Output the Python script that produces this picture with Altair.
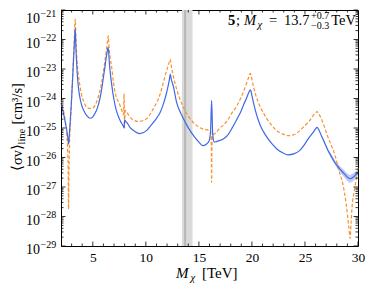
import altair as alt
import pandas as pd

# ---------------- data ----------------
blue_m = [2.0, 2.2, 2.4, 2.55, 2.65, 2.72, 2.8, 2.9, 3.0, 3.1, 3.2, 3.28, 3.34, 3.42, 3.52, 3.65, 3.8, 3.96,
          4.2, 4.43, 4.74, 5.0, 5.2, 5.45, 5.67, 5.85, 5.98, 6.15, 6.29, 6.38, 6.45, 6.55, 6.65, 6.76, 6.95,
          7.17, 7.4, 7.65, 7.85, 7.95, 8.0, 8.1, 8.2, 8.5, 8.9, 9.44, 10.06, 10.5, 10.99, 11.3, 11.6, 11.85,
          12.1, 12.22, 12.3, 12.4, 12.58, 12.9, 13.4, 13.98, 14.6, 15.0, 15.35, 15.7, 15.95, 16.1, 16.2, 16.3,
          16.45, 16.65, 16.9, 17.3, 17.68, 18.1, 18.6, 18.95, 19.24, 19.5, 19.7, 19.86, 20.0, 20.15, 20.33,
          20.55, 20.8, 21.1, 21.41, 21.9, 22.35, 22.9, 23.4, 24.0, 24.52, 24.9, 25.3, 25.55, 25.77, 26.0,
          26.15, 26.3, 26.55, 26.85, 27.17, 27.5, 27.8, 28.2, 28.57, 28.9, 29.25, 29.6, 30.0]
blue_log = [-24.15, -24.45, -24.8, -25.1, -25.35, -25.55, -25.15, -24.6, -24.0, -23.3, -22.55, -22.0, -21.62,
            -22.4, -23.1, -23.65, -24.0, -24.24, -24.45, -24.58, -24.67, -24.62, -24.51, -24.3, -24.0, -23.65,
            -23.33, -22.9, -22.55, -22.35, -22.27, -22.75, -23.15, -23.47, -23.95, -24.34, -24.6, -24.8, -24.92,
            -25.0, -24.72, -24.78, -24.81, -24.98, -25.1, -25.19, -25.09, -24.9, -24.68, -24.51, -24.24, -23.95,
            -23.57, -23.35, -23.17, -23.35, -23.57, -24.13, -24.58, -24.98, -25.31, -25.48, -25.6, -25.55,
            -25.45, -25.1, -24.07, -25.2, -25.48, -25.46, -25.43, -25.37, -25.26, -25.02, -24.69, -24.45,
            -24.19, -23.98, -23.8, -23.71, -23.9, -24.15, -24.41, -24.68, -24.92, -25.13, -25.31, -25.54,
            -25.71, -25.84, -25.91, -25.87, -25.76, -25.59, -25.37, -25.25, -25.15, -25.03, -24.98, -25.06,
            -25.26, -25.5, -25.76, -25.97, -26.16, -26.35, -26.5, -26.63, -26.72, -26.65, -26.5]

orange_m = [2.0, 2.2, 2.4, 2.55, 2.63, 2.68, 2.71, 2.75, 2.8, 2.88, 2.95, 3.05, 3.15, 3.25, 3.34, 3.42, 3.52,
            3.65, 3.8, 3.96, 4.2, 4.43, 4.74, 5.0, 5.2, 5.45, 5.67, 5.85, 5.98, 6.15, 6.29, 6.38, 6.45, 6.55,
            6.65, 6.76, 6.95, 7.17, 7.4, 7.57, 7.8, 7.9, 7.95, 7.99, 8.05, 8.2, 8.67, 9.3, 10.06, 10.68, 11.0,
            11.3, 11.55, 11.77, 12.1, 12.22, 12.3, 12.4, 12.58, 12.9, 13.4, 13.98, 14.6, 15.35, 15.97, 16.12,
            16.17, 16.2, 16.23, 16.3, 16.45, 16.65, 16.9, 17.3, 17.68, 18.1, 18.6, 18.95, 19.24, 19.5, 19.7,
            19.86, 20.0, 20.15, 20.33, 20.55, 20.8, 21.1, 21.41, 21.9, 22.35, 22.9, 23.4, 24.0, 24.52, 24.9,
            25.3, 25.55, 25.77, 26.0, 26.15, 26.3, 26.55, 26.85, 27.17, 27.5, 27.8, 28.0, 28.2, 28.57, 28.88,
            29.13, 29.25, 29.35, 29.44, 29.66, 29.85, 30.0]
orange_log = [-24.05, -24.35, -24.75, -25.2, -25.8, -26.6, -27.75, -26.5, -25.6, -24.9, -24.4, -23.6, -22.8,
              -22.0, -21.31, -22.1, -22.75, -23.23, -23.6, -23.9, -24.15, -24.3, -24.34, -24.32, -24.24, -24.02,
              -23.74, -23.42, -23.12, -22.7, -22.33, -22.05, -21.88, -22.35, -22.65, -22.89, -23.46, -23.9,
              -24.1, -24.24, -24.47, -24.55, -23.84, -25.0, -24.4, -24.47, -24.69, -24.78, -24.69, -24.36,
              -24.15, -23.9, -23.6, -23.29, -22.89, -22.75, -22.67, -22.9, -23.23, -23.68, -24.19, -24.58,
              -24.86, -25.03, -25.09, -25.12, -25.6, -26.84, -25.6, -25.22, -25.2, -25.15, -25.03, -24.9,
              -24.75, -24.5, -24.24, -23.98, -23.74, -23.48, -23.28, -23.15, -23.35, -23.6, -23.85, -24.08,
              -24.3, -24.5, -24.69, -24.92, -25.09, -25.2, -25.26, -25.22, -25.09, -24.95, -24.81, -24.7,
              -24.58, -24.49, -24.44, -24.52, -24.69, -24.98, -25.31, -25.6, -25.88, -26.15, -26.44, -26.89,
              -27.56, -28.35, -28.74, -28.2, -27.68, -27.11, -26.7, -26.37]

band_m = [26.55, 26.85, 27.17, 27.5, 27.8, 28.2, 28.57, 28.9, 29.25, 29.6, 30.0]
band_lo = [-25.28, -25.54, -25.81, -26.04, -26.24, -26.45, -26.61, -26.75, -26.85, -26.78, -26.6]
band_hi = [-25.24, -25.46, -25.71, -25.9, -26.08, -26.25, -26.39, -26.51, -26.59, -26.52, -26.4]

mass_best, mass_lo, mass_hi = 13.7, 13.4, 14.4
x_major = [5, 10, 15, 20, 25, 30]
x_minor = [k for k in range(3, 30) if k % 5]
y_major_exp = list(range(-29, -20))
y_minor = [m * 10.0 ** k for k in range(-29, -21) for m in range(2, 10)]

W, H = 297, 236
SERIF = "Liberation Serif"

df_blue = pd.DataFrame({"m": blue_m, "y": [10.0 ** v for v in blue_log]})
df_orange = pd.DataFrame({"m": orange_m, "y": [10.0 ** v for v in orange_log]})
df_band = pd.DataFrame({"m": band_m, "lo": [10.0 ** v for v in band_lo], "hi": [10.0 ** v for v in band_hi]})
df_mass = pd.DataFrame({"a": [mass_lo], "b": [mass_hi], "c": [mass_best]})
df_ymaj = pd.DataFrame({"y": [10.0 ** k for k in y_major_exp],
                        "e": ["\u2212" + str(-k) for k in y_major_exp],
                        "top": [k == -21 for k in y_major_exp]})

xs = alt.Scale(domain=[2, 30], nice=False, zero=False)
ys = alt.Scale(type="log", domain=[1e-29, 1e-21], nice=False)
xaxis = alt.Axis(values=x_major, ticks=False, domain=False, grid=False, labelFont=SERIF,
                 labelFontSize=13.5, labelPadding=4, labelColor="black", title=None,
                 labelFlush=False, labelOverlap=False)


def X(f="m"):
    return alt.X(f"{f}:Q", scale=xs, axis=xaxis)


def Y(f="y"):
    return alt.Y(f"{f}:Q", scale=ys, axis=None)


layers = []
# grey mass band
layers.append(alt.Chart(df_mass).mark_rect(color="#dadada").encode(
    x=X("a"), x2="b:Q", y=alt.value(0), y2=alt.value(H)))
layers.append(alt.Chart(df_mass).mark_rule(color="#b9b9b9", strokeWidth=2.2).encode(
    x=X("c"), y=alt.value(0), y2=alt.value(H)))
# uncertainty band
layers.append(alt.Chart(df_band).mark_area(color="#4169e1", opacity=0.35, interpolate="monotone").encode(
    x=X(), y=Y("lo"), y2="hi:Q"))
# curves
layers.append(alt.Chart(df_orange).mark_line(color="#f8922f", strokeWidth=1.2, strokeDash=[3.5, 2],
                                              interpolate="monotone").encode(x=X(), y=Y()))
layers.append(alt.Chart(df_blue).mark_line(color="#4169e1", strokeWidth=1.2,
                                           interpolate="monotone").encode(x=X(), y=Y()))

# inward ticks
for vals, ln in ((x_major, 4.5), (x_minor, 2.5)):
    d = pd.DataFrame({"m": vals})
    layers.append(alt.Chart(d).mark_rule(color="black", strokeWidth=0.8).encode(
        x=X(), y=alt.value(H), y2=alt.value(H - ln)))
    layers.append(alt.Chart(d).mark_rule(color="black", strokeWidth=0.8).encode(
        x=X(), y=alt.value(0), y2=alt.value(ln)))
for vals, ln in (([10.0 ** k for k in y_major_exp], 4.5), (y_minor, 2.5)):
    d = pd.DataFrame({"y": vals})
    layers.append(alt.Chart(d).mark_rule(color="black", strokeWidth=0.8).encode(
        y=Y(), x=alt.value(0), x2=alt.value(ln)))
    layers.append(alt.Chart(d).mark_rule(color="black", strokeWidth=0.8).encode(
        y=Y(), x=alt.value(W), x2=alt.value(W - ln)))

# y tick labels 10^k  (the topmost one nudged down so it stays inside the page)
for is_top, shift in ((False, 0), (True, 5)):
    sub = df_ymaj[df_ymaj["top"] == is_top]
    layers.append(alt.Chart(sub).mark_text(align="right", baseline="middle", font=SERIF, fontSize=14,
                                           dy=4 + shift, color="black").encode(
        y=Y(), x=alt.value(-21), text=alt.value("10")))
    layers.append(alt.Chart(sub).mark_text(align="left", baseline="middle", font=SERIF, fontSize=10,
                                           dy=-1.5 + shift, color="black").encode(
        y=Y(), x=alt.value(-20.5), text="e:N"))

one = pd.DataFrame({"k": [0]})


def txt(s, x, y, size=14.5, style="normal", weight="normal", align="left", angle=0, baseline="alphabetic"):
    return alt.Chart(one).mark_text(text=s, align=align, baseline=baseline, font=SERIF, fontSize=size,
                                    fontStyle=style, fontWeight=weight, angle=angle,
                                    color="black").encode(x=alt.value(x), y=alt.value(y))


# annotation
layers += [
    txt("5", 167, 15, weight="bold"),
    txt(";", 175, 15),
    txt("M", 183, 15, style="italic"),
    txt("\u03c7", 196.5, 18, size=10.5, style="italic"),
    txt("=", 212, 15, align="center"),
    txt("13.7", 223, 15),
    txt("+0.7", 250, 8.5, size=10),
    txt("\u22120.3", 250, 18.5, size=10),
    txt("TeV", 295, 15, align="right"),
]
# x title
layers += [
    txt("M", 115, 268, size=15, style="italic"),
    txt("\u03c7", 129.6, 270.5, size=10.5, style="italic"),
    txt("[TeV]", 141, 268, size=15),
]
# y title (rotated, reads bottom to top)
layers += [
    txt("\u27e8\u03c3v\u27e9", -39, 161, size=14.5, angle=270),
    txt("line", -36, 134.5, size=10.5, angle=270),
    txt("[cm\u00b3/s]", -39, 114.5, size=14.5, angle=270),
]

chart = alt.layer(*layers).properties(
    width=W, height=H,
    padding={"left": 53, "top": 2, "right": 7, "bottom": 37},
    autosize=alt.AutoSizeParams(type="none"),
).configure_view(stroke="black", strokeWidth=1)

chart.save("out.html", embed_options={"renderer": "svg", "actions": False})
